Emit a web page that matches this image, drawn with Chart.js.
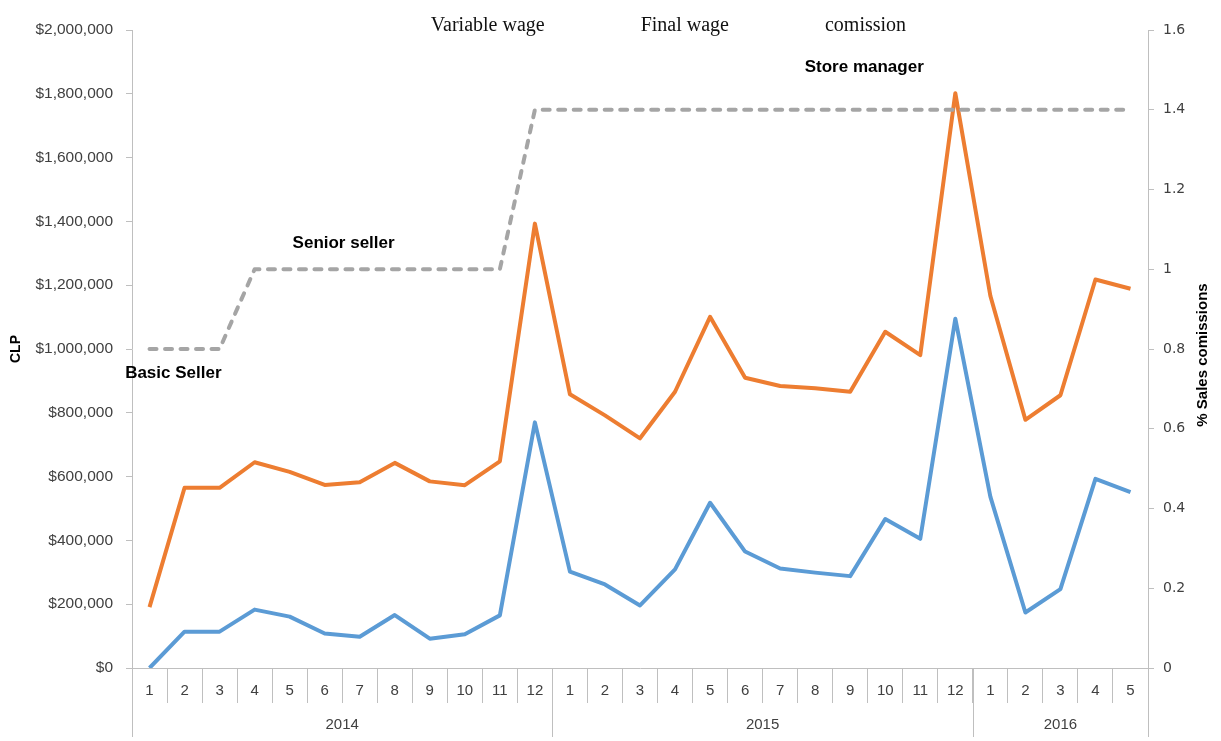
<!DOCTYPE html>
<html>
<head>
<meta charset="utf-8">
<script src="https://cdn.jsdelivr.net/npm/chart.js@4.4.1/dist/chart.umd.min.js"></script>
<style>
  html, body { margin: 0; padding: 0; background: #fff; }
  #wrap { width: 1221px; height: 741px; }
</style>
</head>
<body>
<div id="wrap"><canvas id="wageChart"></canvas></div>
<script>
// months of the period, grouped by year underneath
const months = ['1','2','3','4','5','6','7','8','9','10','11','12',
                '1','2','3','4','5','6','7','8','9','10','11','12',
                '1','2','3','4','5'];
const years = ['2014','2014','2014','2014','2014','2014','2014','2014','2014','2014','2014','2014',
               '2015','2015','2015','2015','2015','2015','2015','2015','2015','2015','2015','2015',
               '2016','2016','2016','2016','2016'];

// CLP per month
const variableWage = [0, 114000, 114000, 183000, 161000, 108000, 98000, 166000, 92000, 106000, 165000, 770000,
                      302000, 262000, 196000, 309000, 518000, 365000, 312000, 299000, 288000, 467000, 405000, 1095000,
                      537000, 174000, 247000, 593000, 551000];
const finalWage = [191000, 565000, 565000, 645000, 615000, 574000, 582000, 643000, 585000, 573000, 648000, 1393000,
                   858000, 792000, 720000, 866000, 1101000, 910000, 884000, 877000, 866000, 1054000, 981000, 1802000,
                   1167000, 778000, 855000, 1218000, 1189000];
// % of sales paid as commission
const commission = [0.8, 0.8, 0.8, 1, 1, 1, 1, 1, 1, 1, 1, 1.4,
                    1.4, 1.4, 1.4, 1.4, 1.4, 1.4, 1.4, 1.4, 1.4, 1.4, 1.4, 1.4,
                    1.4, 1.4, 1.4, 1.4, 1.4];

const roles = ['Basic Seller', 'Senior seller', 'Store manager'];

const axisGray = '#bfbfbf';
const tickColor = '#404040';
const sans = "'Liberation Sans', Arial, sans-serif";

// year row under the month labels
const yearGroups = {
  id: 'yearGroups',
  afterDraw(chart) {
    const ctx = chart.ctx;
    const x = chart.scales.x;
    const half = (x.getPixelForValue(1) - x.getPixelForValue(0)) / 2;
    const top = chart.chartArea.bottom;
    const bottom = chart.height - 4;
    const groups = [];
    years.forEach((y, i) => {
      const g = groups[groups.length - 1];
      if (g && g.year === y) g.end = i; else groups.push({ year: y, start: i, end: i });
    });
    ctx.save();
    ctx.strokeStyle = axisGray;
    ctx.lineWidth = 1;
    ctx.fillStyle = tickColor;
    ctx.font = '15px ' + sans;
    ctx.textAlign = 'center';
    ctx.textBaseline = 'middle';
    groups.forEach((g, k) => {
      const l = x.getPixelForValue(g.start) - half;
      const r = x.getPixelForValue(g.end) + half;
      ctx.beginPath();
      if (k === 0) { ctx.moveTo(Math.round(l) + 0.5, top); ctx.lineTo(Math.round(l) + 0.5, bottom); }
      ctx.moveTo(Math.round(r) + 0.5, top);
      ctx.lineTo(Math.round(r) + 0.5, bottom);
      ctx.stroke();
      ctx.fillText(g.year, (l + r) / 2, top + 57);
    });
    ctx.restore();
  }
};

// series names across the top, plain text
const topLegend = {
  id: 'topLegend',
  afterDraw(chart) {
    const ctx = chart.ctx;
    const gap = 96;
    ctx.save();
    ctx.font = "20px 'Liberation Serif', 'DejaVu Serif', serif";
    ctx.fillStyle = '#111';
    ctx.textBaseline = 'middle';
    const names = chart.data.datasets.map(d => d.label);
    const widths = names.map(n => ctx.measureText(n).width);
    const total = widths.reduce((a, b) => a + b, 0) + gap * (names.length - 1);
    const area = chart.chartArea;
    let xPos = area.left + area.width * 0.528 - total / 2;
    names.forEach((n, i) => {
      ctx.fillText(n, xPos, 26);
      xPos += widths[i] + gap;
    });
    ctx.restore();
  }
};

// job title notes placed against the commission axis
const roleNotes = {
  id: 'roleNotes',
  afterDatasetsDraw(chart, args, opts) {
    const ctx = chart.ctx;
    const x = chart.scales.x;
    const y1 = chart.scales.y1;
    ctx.save();
    ctx.font = 'bold 17px ' + sans;
    ctx.fillStyle = '#000';
    ctx.textAlign = 'center';
    ctx.textBaseline = 'middle';
    opts.places.forEach((p, i) => {
      ctx.fillText(roles[i], x.getPixelForValue(p[0]), y1.getPixelForValue(p[1]));
    });
    ctx.restore();
  }
};

// right axis title reads bottom to top
const rightTitle = {
  id: 'rightTitle',
  afterDraw(chart) {
    const ctx = chart.ctx;
    const area = chart.chartArea;
    ctx.save();
    ctx.translate(chart.width - 18, (area.top + area.bottom) / 2 + 6);
    ctx.rotate(-Math.PI / 2);
    ctx.font = 'bold 15px ' + sans;
    ctx.fillStyle = '#000';
    ctx.textAlign = 'center';
    ctx.textBaseline = 'middle';
    ctx.fillText('% Sales comissions', 0, 0);
    ctx.restore();
  }
};

const ctx = document.getElementById('wageChart').getContext('2d');
new Chart(ctx, {
  type: 'line',
  data: {
    labels: months,
    datasets: [{
      label: 'Variable wage',
      data: variableWage,
      borderColor: '#5b9bd5',
      borderWidth: 4,
      yAxisID: 'y',
      order: 1
    }, {
      label: 'Final wage',
      data: finalWage,
      borderColor: '#ed7d31',
      borderWidth: 4,
      yAxisID: 'y',
      order: 2
    }, {
      label: 'comission',
      data: commission,
      borderColor: '#a5a5a5',
      borderWidth: 4,
      borderDash: [7, 8.5],
      borderCapStyle: 'round',
      yAxisID: 'y1',
      order: 0
    }]
  },
  options: {
    responsive: true,
    maintainAspectRatio: false,
    animation: false,
    layout: { padding: { top: 30, left: 0, right: 0, bottom: 0 } },
    elements: {
      point: { radius: 0 },
      line: { tension: 0, borderJoinStyle: 'round', fill: false }
    },
    plugins: {
      legend: { display: false },
      tooltip: { enabled: false },
      roleNotes: { places: [[0.68, 0.74], [5.54, 1.066], [20.4, 1.507]] }
    },
    scales: {
      x: {
        offset: true,
        grid: { display: true, drawOnChartArea: false, offset: true, color: axisGray, tickLength: 35 },
        border: { color: axisGray },
        ticks: { color: tickColor, font: { family: sans, size: 15 }, padding: -21, maxRotation: 0, autoSkip: false },
        afterFit: s => { s.height = 73; }
      },
      y: {
        position: 'left',
        min: 0,
        max: 2000000,
        ticks: {
          stepSize: 200000,
          color: tickColor,
          padding: 13,
          font: { family: sans, size: 15.5 },
          callback: v => '$' + v.toLocaleString('en-US')
        },
        grid: { drawOnChartArea: false, color: axisGray, tickLength: 6 },
        border: { color: axisGray },
        title: {
          display: true,
          text: 'CLP',
          color: '#000',
          font: { family: sans, size: 14, weight: 'bold' },
          padding: { top: 8, bottom: 0 }
        },
        afterFit: s => { s.width = 132; }
      },
      y1: {
        position: 'right',
        min: 0,
        max: 1.6,
        ticks: {
          stepSize: 0.2,
          color: tickColor,
          padding: 9,
          font: { family: "'DejaVu Sans', Verdana, sans-serif", size: 14 },
          callback: v => String(+v.toFixed(1))
        },
        grid: { drawOnChartArea: false, color: axisGray, tickLength: 6 },
        border: { color: axisGray },
        afterFit: s => { s.width = 73; }
      }
    }
  },
  plugins: [yearGroups, topLegend, roleNotes, rightTitle]
});
</script>
</body>
</html>
